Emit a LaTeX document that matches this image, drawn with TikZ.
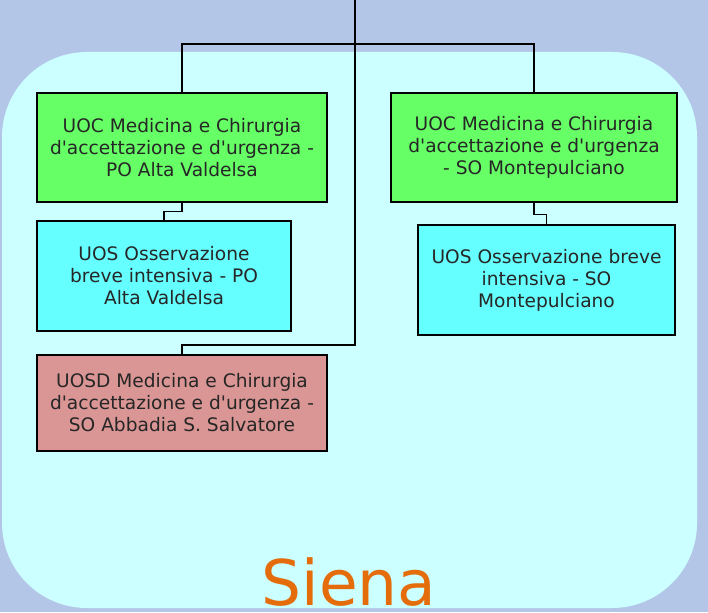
\documentclass[tikz,border=0pt]{standalone}
\usepackage{fontspec}
\setmainfont{DejaVu Sans}
\definecolor{bgblue}{HTML}{B4C6E8}
\definecolor{palecyan}{HTML}{CCFFFF}
\definecolor{uocgreen}{HTML}{66FF66}
\definecolor{uoscyan}{HTML}{66FFFF}
\definecolor{uosdpink}{HTML}{DA9694}
\definecolor{sienaorange}{HTML}{E46C0A}
\begin{document}
\begin{tikzpicture}[x=1pt,y=-1pt,
    unit/.style={draw=black,line width=1.4pt,align=center,inner sep=0pt,
      font=\fontsize{18.6}{22}\selectfont,text=black!85},
    link/.style={line width=1.5pt}]
    \useasboundingbox (0,0) rectangle (708,612);
    \fill[bgblue] (0,0) rectangle (708,612);
    \fill[palecyan,rounded corners=85pt] (2,52) rectangle (697,608);%
    \node[unit,fill=uocgreen,minimum width=290pt,minimum height=109pt] (uocpo) at (182,147.5)
      {UOC Medicina e Chirurgia\\d\textquotesingle accettazione e d\textquotesingle urgenza -\\PO Alta Valdelsa};
    \node[unit,fill=uocgreen,minimum width=286pt,minimum height=109pt] (uocso) at (534,147.5)
      {UOC Medicina e Chirurgia\\d\textquotesingle accettazione e d\textquotesingle urgenza\\- SO Montepulciano};
    \node[unit,fill=uoscyan,minimum width=254pt,minimum height=110pt] (uospo) at (164,276)
      {UOS Osservazione\\breve intensiva - PO\\Alta Valdelsa};
    \node[unit,fill=uoscyan,minimum width=257pt,minimum height=110pt] (uosso) at (546.5,280)
      {UOS Osservazione breve\\intensiva - SO\\Montepulciano};
    \node[unit,fill=uosdpink,minimum width=290pt,minimum height=96pt] (uosd) at (182,403)
      {UOSD Medicina e Chirurgia\\d\textquotesingle accettazione e d\textquotesingle urgenza -\\SO Abbadia S. Salvatore};%
    \node[text=sienaorange,font=\fontsize{63}{63}\selectfont,anchor=base,inner sep=0pt] (siena) at (349,605) {Siena};%
    \coordinate (top) at (355,0);
    \coordinate (hub) at (355,44);
    \coordinate (bend) at (355,345);
    \draw[line width=2pt] (top) -- (hub);
    \draw[link] (uocpo.north) |- (hub) -| (uocso.north);
    \draw[link] (hub) -- (bend) -| (uosd.north);
    \draw[link] (uocpo.south) -- ++(0,9) -| (uospo.north);
    \draw[link] (uocso.south) -- ++(0,12) -| (uosso.north);
\end{tikzpicture}
\end{document}
